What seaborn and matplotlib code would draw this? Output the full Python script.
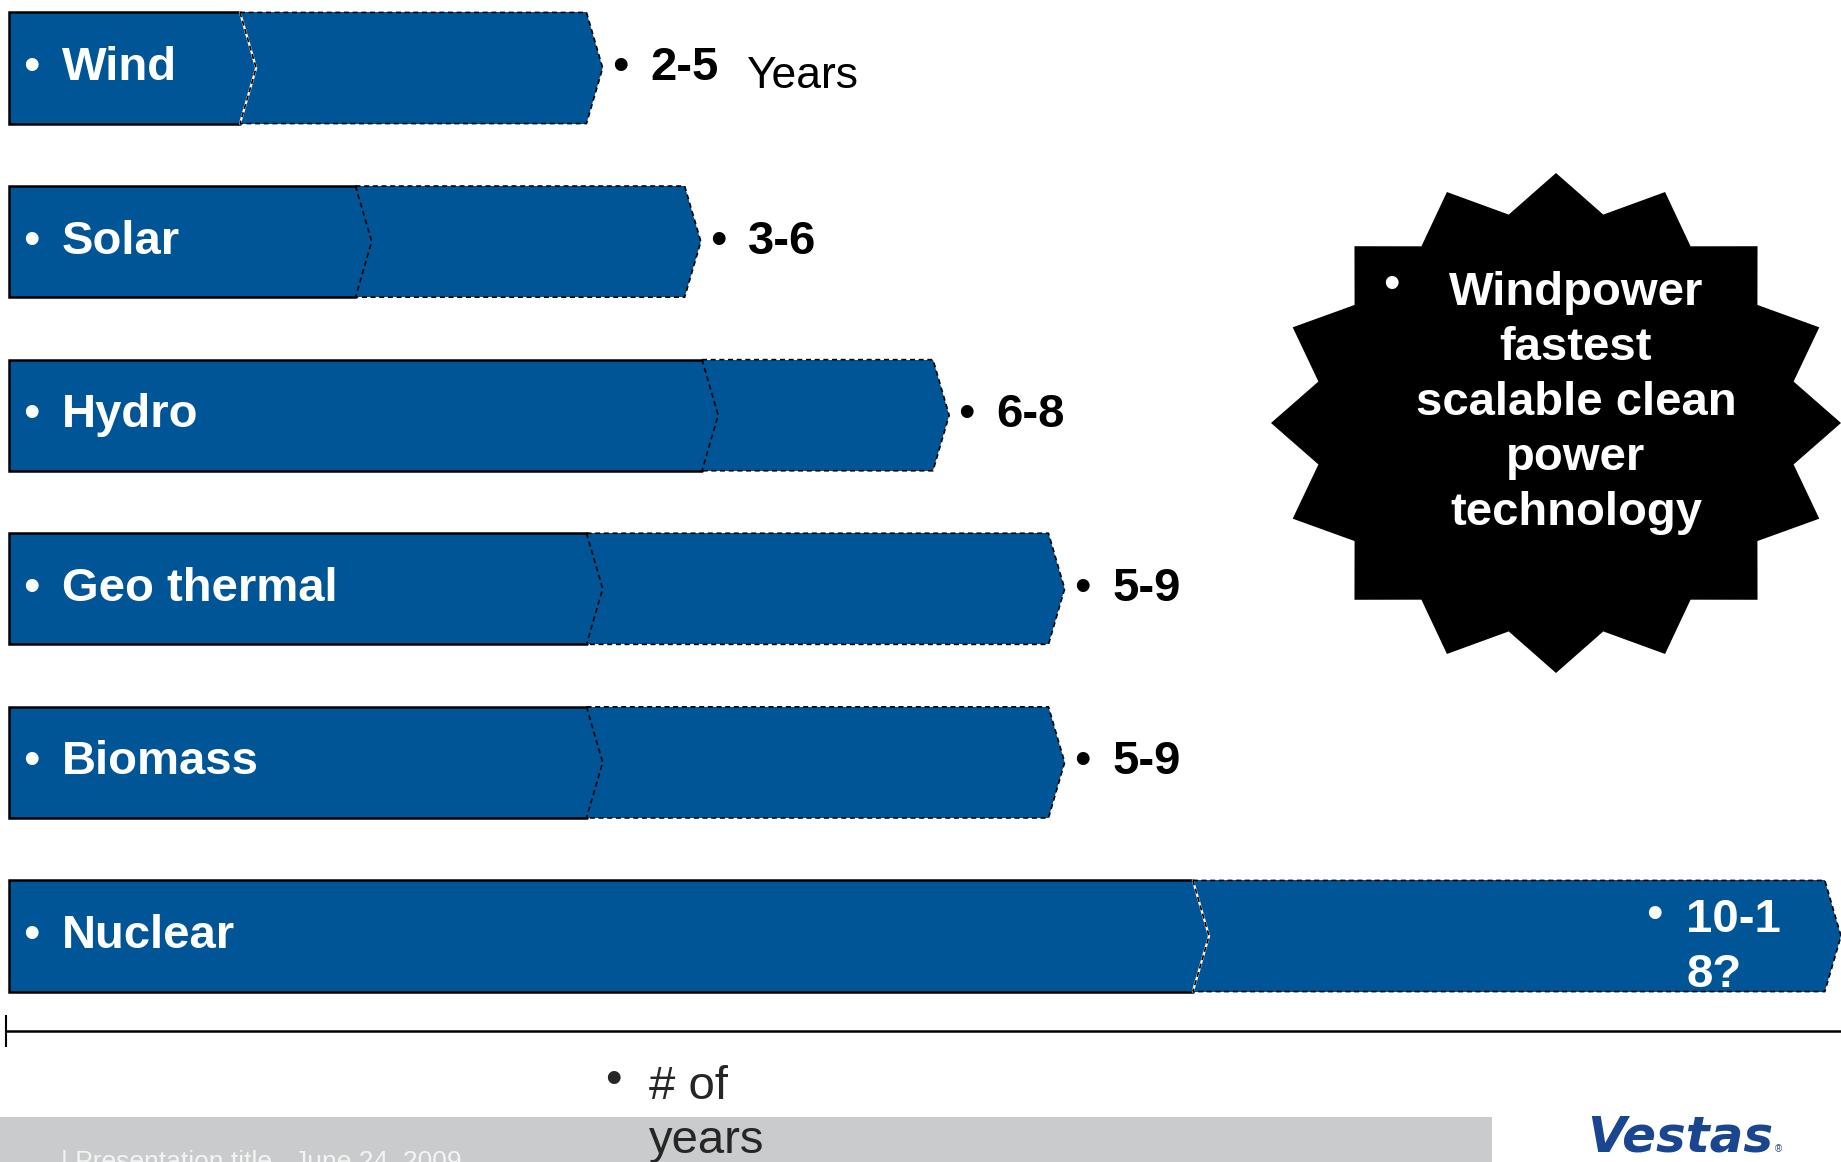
import numpy as np
import pandas as pd
import matplotlib
matplotlib.use("Agg")
import matplotlib.pyplot as plt
from matplotlib.patches import Polygon, Rectangle
import seaborn as sns

# ---------------- data ----------------
technologies = ["Wind", "Solar", "Hydro", "Geo thermal", "Biomass", "Nuclear"]
years_low = [2, 3, 6, 5, 5, 10.25]
years_high = [5, 5.85, 8, 9, 9, 18]
range_labels = ["2-5", "3-6", "6-8", "5-9", "5-9", "10-1\n8?"]
unit_label = "Years"
axis_title = "# of\nyears"
callout_lines = ["Windpower", "fastest", "scalable clean", "power", "technology"]
footer_text = "| Presentation title   June 24, 2009"
logo_text = "Vestas"

# ---------------- style / layout ----------------
sns.set_theme(style="white")
plt.rcParams["font.family"] = ["Liberation Sans", "DejaVu Sans"]

W, H, DPI = 1841, 1162, 100
BLUE = "#005596"
PX_PER_YEAR = 115.5
ROW_PX = 173.6
FIRST_ROW_PX = 68
AX_LEFT_PX = 6
ZERO_PX = 9
AXIS_PX = 1031
TIP = 0.14
BAR_W = 0.64
FS = 34
LS = 1.32
white_junction = [True, False, False, False, False, True]

fig = plt.figure(figsize=(W / DPI, H / DPI), dpi=DPI)
fig.patch.set_facecolor("white")

# decoration layer in pixel coordinates
deco = fig.add_axes([0, 0, 1, 1], zorder=0)
deco.set_xlim(0, W)
deco.set_ylim(H, 0)
deco.axis("off")

# main chart axes
ax = fig.add_axes([AX_LEFT_PX / W, (H - AXIS_PX) / H, (W - AX_LEFT_PX) / W, AXIS_PX / H], zorder=1)
ax.patch.set_alpha(0)

xmin = -(ZERO_PX - AX_LEFT_PX) / PX_PER_YEAR
xmax = xmin + (W - AX_LEFT_PX) / PX_PER_YEAR

df = pd.DataFrame({"technology": technologies, "low": years_low, "high": years_high})
df["drawn_high"] = np.minimum(df["high"], xmax - TIP)

sns.barplot(data=df, x="drawn_high", y="technology", orient="h", color=BLUE,
            width=BAR_W, errorbar=None, linewidth=0, saturation=1, ax=ax)

ax.set_xlim(xmin, xmax)
ax.set_ylim((AXIS_PX - FIRST_ROW_PX) / ROW_PX, -FIRST_ROW_PX / ROW_PX)

dash = (0, (3.0, 2.2))
for i, row in df.iterrows():
    top, bot = i - BAR_W / 2, i + BAR_W / 2
    lo, hi = row["low"], row["drawn_high"]
    # arrow tip
    ax.fill([hi, hi + TIP, hi], [top, i, bot], color=BLUE, lw=0, zorder=2)
    # solid part outline
    ax.plot([lo, 0, 0, lo], [top, top, bot, bot], color="black", lw=1.8,
            solid_joinstyle="miter", zorder=3)
    # junction chevron
    if white_junction[i]:
        ax.plot([lo, lo + TIP, lo], [top, i, bot], color="white", lw=1.6, zorder=3)
    ax.plot([lo, lo + TIP, lo], [top, i, bot], color="black", lw=1.2, ls=dash, zorder=4)
    # dashed part outline
    ax.plot([lo, hi, hi + TIP, hi, lo], [top, top, i, bot, bot], color="black",
            lw=1.2, ls=dash, zorder=4)

    # category label inside bar
    ax.text((31 - ZERO_PX) / PX_PER_YEAR, i, "•", color="white", fontsize=FS,
            ha="center", va="center", zorder=5)
    ax.text((62 - ZERO_PX) / PX_PER_YEAR, i, row["technology"], color="white",
            fontsize=FS, fontweight="bold", ha="left", va="center", zorder=5)

    # range label
    if row["drawn_high"] < row["high"]:
        bx = xmax - (W - 1654) / PX_PER_YEAR
        ax.text(bx, i - 0.115, "•", color="white", fontsize=FS, ha="center",
                va="center", zorder=5)
        ax.text(bx + 0.28, i + 0.068, range_labels[i], color="white", fontsize=FS,
                fontweight="bold", ha="left", va="center", linespacing=LS, zorder=5)
    else:
        bx = hi + TIP + 0.15
        ax.text(bx, i, "•", color="black", fontsize=FS, ha="center", va="center", zorder=5)
        ax.text(bx + 0.26, i, range_labels[i], color="black", fontsize=FS,
                fontweight="bold", ha="left", va="center", zorder=5)
        if i == 0:
            ax.text(bx + 0.26 + 0.83, i + 0.05, unit_label, color="black",
                    fontsize=32, ha="left", va="center", zorder=5)

# axis styling
sns.despine(ax=ax, left=True, top=True, right=True)
ax.spines["bottom"].set_color("black")
ax.spines["bottom"].set_linewidth(1.8)
ax.set_yticks([])
ax.set_ylabel("")
ax.set_xticks([xmin])
ax.tick_params(axis="x", bottom=True, direction="inout", length=23, width=1.5,
               color="black", labelbottom=False)
ax.set_xlabel(axis_title, fontsize=FS, ha="left", va="center", linespacing=LS)
ax.xaxis.set_label_coords((649 - AX_LEFT_PX) / (W - AX_LEFT_PX), (AXIS_PX - 1114) / AXIS_PX)
ax.text((613 - AX_LEFT_PX) / (W - AX_LEFT_PX), (AXIS_PX - 1081) / AXIS_PX, "•",
        transform=ax.transAxes, fontsize=FS, ha="center", va="center", clip_on=False)

# callout star
n = 16
cx, cy, rx, ry = 1556, 423, 285, 250
k = np.arange(2 * n)
ang = np.pi / 2 + k * np.pi / n
r = np.where(k % 2 == 0, 1.0, 0.85)
star = np.c_[cx + rx * r * np.cos(ang), cy - ry * r * np.sin(ang)]
deco.add_patch(Polygon(star, closed=True, fc="black", ec="none"))
deco.text(1576, 403, "\n".join(callout_lines), color="white", fontsize=FS,
          fontweight="bold", ha="center", va="center", multialignment="center",
          linespacing=LS)
deco.text(1391, 286, "•", color="white", fontsize=FS, ha="center", va="center")

# footer
deco.add_patch(Rectangle((0, 1117), 1492, 45, fc="#CACBCD", ec="none"))
deco.text(61, 1169, footer_text, fontsize=19, color="#F4F4F4", ha="left", va="baseline")
deco.text(1587, 1152, logo_text, family=["DejaVu Sans"], fontweight="bold",
          fontstyle="oblique", fontsize=36, color="#1A4690", ha="left", va="baseline")
deco.text(1775, 1152, "®", fontsize=7, color="#1A4690", ha="left", va="baseline")

fig.savefig("out.png", dpi=DPI)
